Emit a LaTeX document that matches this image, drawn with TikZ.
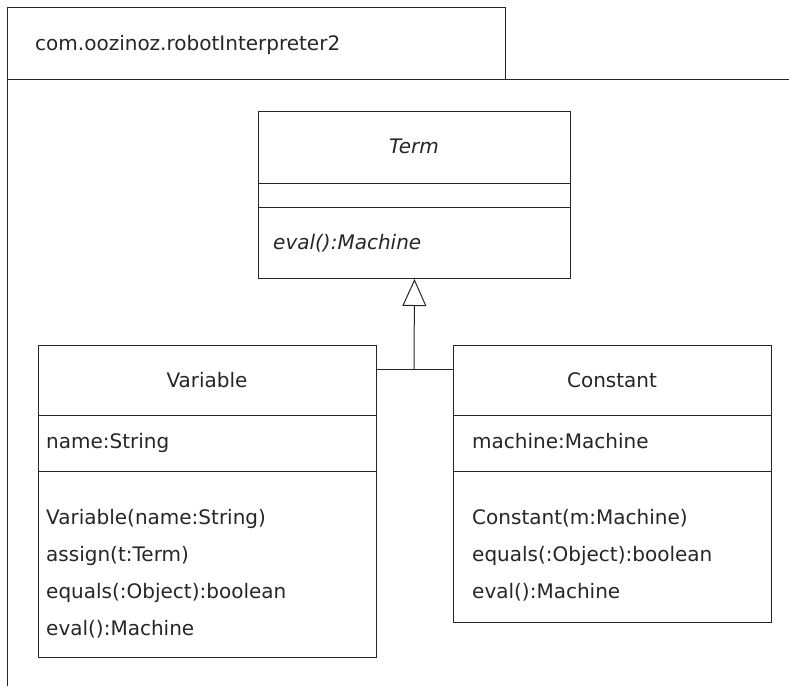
\documentclass[tikz,border=0pt]{standalone}
\usepackage{fontspec}
\setmainfont{DejaVu Sans}
\usetikzlibrary{arrows.meta}
\begin{document}
\begin{tikzpicture}[x=1pt,y=-1pt,
  ln/.style={draw=black!85, line width=1pt},
  txt/.style={anchor=base west, inner sep=0pt, font=\fontsize{20}{24}\selectfont, text=black!85},
  ctxt/.style={anchor=base, inner sep=0pt, font=\fontsize{20}{24}\selectfont, text=black!85}]
\useasboundingbox (0,0) rectangle (789,686);
% package
\draw[ln] (7,79) -- (7,7) -- (505,7) -- (505,79);
\draw[ln] (7,686) -- (7,79) -- (789,79);
\node[txt] (pkg) at (35,50) {com.oozinoz.robotInterpreter2};
% Term
\node[ln, minimum width=312, minimum height=167, anchor=north west] (term) at (258,111) {};
\draw[ln] (258,183) -- (570,183);
\draw[ln] (258,207) -- (570,207);
\node[ctxt] (termname) at (414,153) {\itshape Term};
\node[txt] (termop) at (273,249) {\itshape eval():Machine};
% Variable
\node[ln, minimum width=338, minimum height=312, anchor=north west] (var) at (38,345) {};
\draw[ln] (38,415) -- (376,415);
\draw[ln] (38,471) -- (376,471);
\node[ctxt] (varname) at (207,387) {Variable};
\node[txt] (va1) at (46,448) {name:String};
\node[txt] (vo1) at (46,524) {Variable(name:String)};
\node[txt] (vo2) at (46,561) {assign(t:Term)};
\node[txt] (vo3) at (46,598) {equals(:Object):boolean};
\node[txt] (vo4) at (46,635) {eval():Machine};
% Constant
\node[ln, minimum width=318, minimum height=277, anchor=north west] (con) at (453,345) {};
\draw[ln] (453,415) -- (771,415);
\draw[ln] (453,471) -- (771,471);
\node[ctxt] (conname) at (612,387) {Constant};
\node[txt] (ca1) at (472,448) {machine:Machine};
\node[txt] (co1) at (472,524) {Constant(m:Machine)};
\node[txt] (co2) at (472,561) {equals(:Object):boolean};
\node[txt] (co3) at (472,598) {eval():Machine};
% generalization
\coordinate (j) at (414,369);
\draw[ln] (var.east |- j) -- (con.west |- j);
\draw[ln, -{Triangle[open, width=24pt, length=27pt]}] (j) -- (term.south);
\end{tikzpicture}
\end{document}
